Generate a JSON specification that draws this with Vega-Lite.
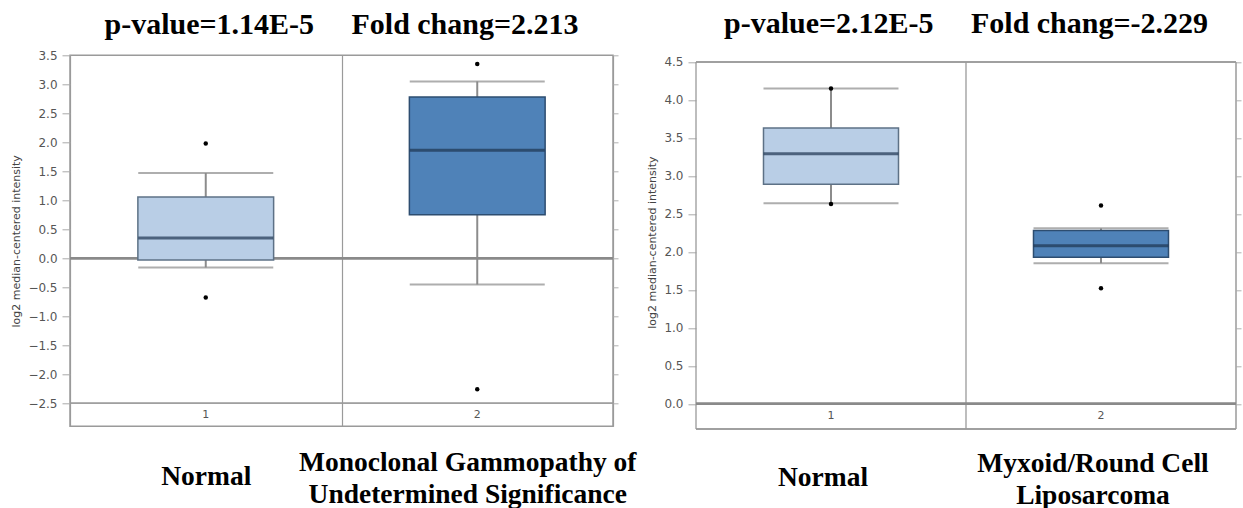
{
  "$schema": "https://vega.github.io/schema/vega-lite/v6.json",
  "background": "white",
  "padding": {"left": 10, "top": 8.3, "right": 2, "bottom": 0},
  "spacing": 9,
  "config": {
    "view": {"stroke": "#9a9a9a", "strokeWidth": 1.5},
    "title": {"font": "Liberation Serif", "fontSize": 30, "fontWeight": "bold", "color": "#000", "anchor": "middle"}
  },
  "datasets": {
    "boxes": [
      {"panel": "L", "grp": "1", "label": "Normal", "lower": -0.16, "q1": -0.03, "median": 0.35, "q3": 1.055, "upper": 1.47},
      {"panel": "L", "grp": "2", "label": "Monoclonal Gammopathy of|Undetermined Significance", "lower": -0.455, "q1": 0.75, "median": 1.86, "q3": 2.78, "upper": 3.05},
      {"panel": "R", "grp": "1", "label": "Normal", "lower": 2.64, "q1": 2.89, "median": 3.29, "q3": 3.63, "upper": 4.15},
      {"panel": "R", "grp": "2", "label": "Myxoid/Round Cell|Liposarcoma", "lower": 1.85, "q1": 1.93, "median": 2.08, "q3": 2.28, "upper": 2.31}
    ],
    "outliers": [
      {"panel": "L", "grp": "1", "label": "Normal", "value": 1.98},
      {"panel": "L", "grp": "1", "label": "Normal", "value": -0.68},
      {"panel": "L", "grp": "2", "label": "Monoclonal Gammopathy of|Undetermined Significance", "value": 3.35},
      {"panel": "L", "grp": "2", "label": "Monoclonal Gammopathy of|Undetermined Significance", "value": -2.26},
      {"panel": "R", "grp": "1", "label": "Normal", "value": 4.15},
      {"panel": "R", "grp": "1", "label": "Normal", "value": 2.63},
      {"panel": "R", "grp": "2", "label": "Myxoid/Round Cell|Liposarcoma", "value": 2.61},
      {"panel": "R", "grp": "2", "label": "Myxoid/Round Cell|Liposarcoma", "value": 1.52}
    ]
  },
  "hconcat": [
    {
      "width": 543,
      "height": 371,
      "title": {"text": "p-value=1.14E-5\u00a0\u00a0\u00a0\u00a0\u00a0Fold chang=2.213", "offset": 9.7},
      "resolve": {"axis": {"y": "independent"}},
      "layer": [
        {
          "data": {"name": "boxes"},
          "transform": [{"filter": "datum.panel === 'L'"}],
          "mark": {"type": "rule", "color": "#8c8c8c", "strokeWidth": 2},
          "encoding": {
            "x": {"field": "label", "type": "nominal", "sort": null, "scale": {"paddingInner": 0, "paddingOuter": 0},
              "axis": {"title": null, "ticks": false, "domain": false, "grid": true, "tickBand": "extent", "gridColor": "#9a9a9a", "gridWidth": 1.2,
                "labelExpr": "split(datum.label, '|')", "labelFont": "Liberation Serif", "labelFontSize": 27.5, "labelFontWeight": "bold", "labelColor": "#000",
                "labelAngle": 0, "labelPadding": 50.3, "labelLineHeight": 32, "labelLimit": 0, "labelOverlap": false,
                "labelBaseline": {"condition": {"test": "datum.value !== 'Normal'", "value": "bottom"}, "value": "middle"},
                "labelOffset": {"condition": {"test": "datum.value !== 'Normal'", "value": -10}, "value": 0}}},
            "y": {"field": "lower", "type": "quantitative", "scale": {"domain": [-2.9, 3.5], "nice": false, "zero": false},
              "axis": {"orient": "right", "values": [-2.5, -2, -1.5, -1, -0.5, 0, 0.5, 1, 1.5, 2, 2.5, 3, 3.5], "labels": false, "ticks": true, "tickSize": 5, "tickColor": "#b0b0b0", "domain": false, "grid": false, "title": null}},
            "y2": {"field": "upper"}
          }
        },
        {
          "data": {"name": "boxes"},
          "transform": [{"filter": "datum.panel === 'L'"}],
          "mark": {"type": "rule", "color": "#8a8a8a", "strokeWidth": 2.5},
          "encoding": {"y": {"datum": 0, "type": "quantitative", "axis": null}}
        },
        {
          "data": {"name": "boxes"},
          "transform": [{"filter": "datum.panel === 'L'"}],
          "mark": {"type": "rule", "color": "#9a9a9a", "strokeWidth": 1.2},
          "encoding": {"y": {"datum": -2.5, "type": "quantitative", "axis": null}}
        },
        {
          "data": {"name": "boxes"},
          "transform": [{"filter": "datum.panel === 'L'"}],
          "mark": {"type": "tick", "size": 135, "thickness": 2, "color": "#8c8c8c"},
          "encoding": {
            "x": {"field": "label", "type": "nominal", "sort": null},
            "y": {"field": "lower", "type": "quantitative", "axis": null}
          }
        },
        {
          "data": {"name": "boxes"},
          "transform": [{"filter": "datum.panel === 'L'"}],
          "mark": {"type": "tick", "size": 135, "thickness": 2, "color": "#8c8c8c"},
          "encoding": {
            "x": {"field": "label", "type": "nominal", "sort": null},
            "y": {"field": "upper", "type": "quantitative", "axis": null}
          }
        },
        {
          "data": {"name": "boxes"},
          "transform": [{"filter": "datum.panel === 'L'"}],
          "mark": {"type": "bar", "width": {"band": 0.5}, "strokeWidth": 1.5},
          "encoding": {
            "x": {"field": "label", "type": "nominal", "sort": null},
            "y": {"field": "q1", "type": "quantitative",
              "axis": {"orient": "left", "values": [-2.5, -2, -1.5, -1, -0.5, 0, 0.5, 1, 1.5, 2, 2.5, 3, 3.5], "format": ".1f",
                "labelFont": "DejaVu Sans", "labelFontSize": 12, "labelColor": "#555", "tickColor": "#aaa", "tickSize": 8, "labelPadding": 5,
                "domain": false, "grid": false, "title": "log2 median-centered intensity", "titleFont": "DejaVu Sans", "titleFontSize": 11,
                "titleFontWeight": "normal", "titleColor": "#444", "titlePadding": 6}},
            "y2": {"field": "q3"},
            "fill": {"field": "grp", "type": "nominal", "scale": {"domain": ["1", "2"], "range": ["#b9cee6", "#4f82b8"]}, "legend": null},
            "stroke": {"field": "grp", "type": "nominal", "scale": {"domain": ["1", "2"], "range": ["#5d7186", "#2d4d70"]}, "legend": null}
          }
        },
        {
          "data": {"name": "boxes"},
          "transform": [{"filter": "datum.panel === 'L'"}],
          "mark": {"type": "tick", "size": 135, "thickness": 3, "color": "#1e3450"},
          "encoding": {
            "x": {"field": "label", "type": "nominal", "sort": null},
            "y": {"field": "median", "type": "quantitative", "axis": null}
          }
        },
        {
          "data": {"name": "outliers"},
          "transform": [{"filter": "datum.panel === 'L'"}],
          "mark": {"type": "circle", "size": 20, "color": "#000", "opacity": 1},
          "encoding": {
            "x": {"field": "label", "type": "nominal", "sort": null},
            "y": {"field": "value", "type": "quantitative", "axis": null}
          }
        },
        {
          "data": {"name": "boxes"},
          "transform": [{"filter": "datum.panel === 'L'"}],
          "mark": {"type": "text", "font": "DejaVu Sans", "fontSize": 11, "color": "#555", "baseline": "middle"},
          "encoding": {
            "x": {"field": "label", "type": "nominal", "sort": null},
            "y": {"datum": -2.7, "type": "quantitative", "axis": null},
            "text": {"field": "grp"}
          }
        }
      ]
    },
    {
      "width": 540,
      "height": 373.6,
      "view": {"stroke": null},
      "title": {"text": "p-value=2.12E-5\u00a0\u00a0\u00a0\u00a0\u00a0Fold chang=-2.229", "offset": 16.3},
      "resolve": {"axis": {"y": "independent"}},
      "layer": [
        {
          "data": {"name": "boxes"},
          "transform": [{"filter": "datum.panel === 'R'"}],
          "mark": {"type": "rule", "color": "#8c8c8c", "strokeWidth": 2},
          "encoding": {
            "x": {"field": "label", "type": "nominal", "sort": null, "scale": {"paddingInner": 0, "paddingOuter": 0},
              "axis": {"title": null, "ticks": false, "domain": false, "grid": false,
                "labelExpr": "split(datum.label, '|')", "labelFont": "Liberation Serif", "labelFontSize": 27.5, "labelFontWeight": "bold", "labelColor": "#000",
                "labelAngle": 0, "labelPadding": 48.7, "labelLineHeight": 32, "labelLimit": 0, "labelOverlap": false, "labelOffset": -8,
                "labelBaseline": {"condition": {"test": "datum.value !== 'Normal'", "value": "bottom"}, "value": "middle"}}},
            "y": {"field": "lower", "type": "quantitative", "scale": {"domain": [-0.33, 4.587], "nice": false, "zero": false},
              "axis": {"orient": "right", "values": [0, 0.5, 1, 1.5, 2, 2.5, 3, 3.5, 4, 4.5], "labels": false, "ticks": true, "tickSize": 5, "tickColor": "#b0b0b0", "domain": false, "grid": false, "title": null}},
            "y2": {"field": "upper"}
          }
        },
        {
          "data": {"name": "boxes"},
          "transform": [{"filter": "datum.panel === 'R'"}],
          "mark": {"type": "rule", "color": "#9a9a9a", "strokeWidth": 1.5},
          "encoding": {"y": {"datum": 4.5, "type": "quantitative", "axis": null}}
        },
        {
          "data": {"name": "boxes"},
          "transform": [{"filter": "datum.panel === 'R'"}],
          "mark": {"type": "rule", "color": "#9a9a9a", "strokeWidth": 1.5},
          "encoding": {"y": {"datum": -0.33, "type": "quantitative", "axis": null}}
        },
        {
          "data": {"name": "boxes"},
          "transform": [{"filter": "datum.panel === 'R'"}],
          "mark": {"type": "rule", "color": "#9a9a9a", "strokeWidth": 1.3},
          "encoding": {
            "x": {"field": "label", "type": "nominal", "sort": null, "bandPosition": 0},
            "y": {"datum": 4.5, "type": "quantitative", "axis": null},
            "y2": {"datum": -0.33}
          }
        },
        {
          "data": {"name": "boxes"},
          "transform": [{"filter": "datum.panel === 'R' && datum.grp === '2'"}],
          "mark": {"type": "rule", "color": "#9a9a9a", "strokeWidth": 1.5},
          "encoding": {
            "x": {"field": "label", "type": "nominal", "sort": null, "bandPosition": 1},
            "y": {"datum": 4.5, "type": "quantitative", "axis": null},
            "y2": {"datum": -0.33}
          }
        },
        {
          "data": {"name": "boxes"},
          "transform": [{"filter": "datum.panel === 'R'"}],
          "mark": {"type": "rule", "color": "#8a8a8a", "strokeWidth": 2.5},
          "encoding": {"y": {"datum": 0, "type": "quantitative", "axis": null}}
        },
        {
          "data": {"name": "boxes"},
          "transform": [{"filter": "datum.panel === 'R'"}],
          "mark": {"type": "tick", "size": 135, "thickness": 2, "color": "#8c8c8c"},
          "encoding": {
            "x": {"field": "label", "type": "nominal", "sort": null},
            "y": {"field": "lower", "type": "quantitative", "axis": null}
          }
        },
        {
          "data": {"name": "boxes"},
          "transform": [{"filter": "datum.panel === 'R'"}],
          "mark": {"type": "tick", "size": 135, "thickness": 2, "color": "#8c8c8c"},
          "encoding": {
            "x": {"field": "label", "type": "nominal", "sort": null},
            "y": {"field": "upper", "type": "quantitative", "axis": null}
          }
        },
        {
          "data": {"name": "boxes"},
          "transform": [{"filter": "datum.panel === 'R'"}],
          "mark": {"type": "bar", "width": {"band": 0.5}, "strokeWidth": 1.5},
          "encoding": {
            "x": {"field": "label", "type": "nominal", "sort": null},
            "y": {"field": "q1", "type": "quantitative",
              "axis": {"orient": "left", "values": [0, 0.5, 1, 1.5, 2, 2.5, 3, 3.5, 4, 4.5], "format": ".1f",
                "labelFont": "DejaVu Sans", "labelFontSize": 12, "labelColor": "#555", "tickColor": "#aaa", "tickSize": 8, "labelPadding": 5,
                "domain": false, "grid": false, "title": "log2 median-centered intensity", "titleFont": "DejaVu Sans", "titleFontSize": 11,
                "titleFontWeight": "normal", "titleColor": "#444", "titlePadding": 6}},
            "y2": {"field": "q3"},
            "fill": {"field": "grp", "type": "nominal", "scale": {"domain": ["1", "2"], "range": ["#b9cee6", "#4f82b8"]}, "legend": null},
            "stroke": {"field": "grp", "type": "nominal", "scale": {"domain": ["1", "2"], "range": ["#5d7186", "#2d4d70"]}, "legend": null}
          }
        },
        {
          "data": {"name": "boxes"},
          "transform": [{"filter": "datum.panel === 'R'"}],
          "mark": {"type": "tick", "size": 135, "thickness": 3, "color": "#1e3450"},
          "encoding": {
            "x": {"field": "label", "type": "nominal", "sort": null},
            "y": {"field": "median", "type": "quantitative", "axis": null}
          }
        },
        {
          "data": {"name": "outliers"},
          "transform": [{"filter": "datum.panel === 'R'"}],
          "mark": {"type": "circle", "size": 20, "color": "#000", "opacity": 1},
          "encoding": {
            "x": {"field": "label", "type": "nominal", "sort": null},
            "y": {"field": "value", "type": "quantitative", "axis": null}
          }
        },
        {
          "data": {"name": "boxes"},
          "transform": [{"filter": "datum.panel === 'R'"}],
          "mark": {"type": "text", "font": "DejaVu Sans", "fontSize": 11, "color": "#555", "baseline": "middle"},
          "encoding": {
            "x": {"field": "label", "type": "nominal", "sort": null},
            "y": {"datum": -0.165, "type": "quantitative", "axis": null},
            "text": {"field": "grp"}
          }
        }
      ]
    }
  ]
}
